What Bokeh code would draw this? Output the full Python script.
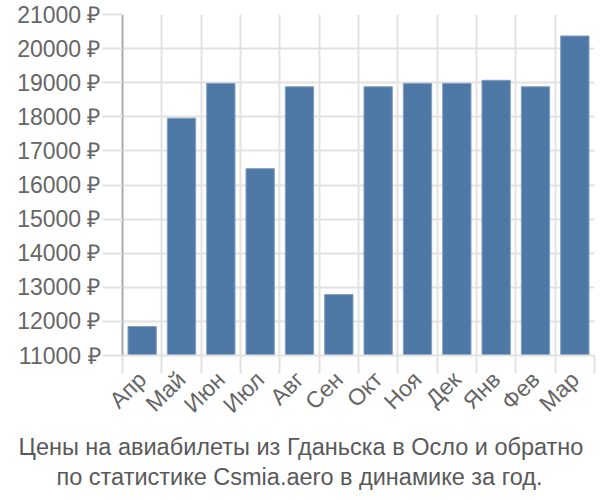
from bokeh.plotting import figure
from bokeh.models import Range1d, FixedTicker, PrintfTickFormatter, Title, ColumnDataSource
from bokeh.embed import file_html
from bokeh.resources import INLINE
import math

months = ["Апр", "Май", "Июн", "Июл", "Авг", "Сен", "Окт", "Ноя", "Дек", "Янв", "Фев", "Мар"]
prices = [11850, 17960, 18980, 16480, 18880, 12790, 18880, 18980, 18980, 19070, 18880, 20370]
y_ticks = [11000, 12000, 13000, 14000, 15000, 16000, 17000, 18000, 19000, 20000, 21000]
title_lines = ["Цены на авиабилеты из Гданьска в Осло и обратно",
               "по статистике Csmia.aero в динамике за год."]

n = len(months)
centers = [i + 0.5 for i in range(n)]
bounds = list(range(n + 1))

src = ColumnDataSource(dict(x=centers, top=prices, m=months))

p = figure(width=600, height=500, output_backend="svg", toolbar_location=None,
           x_range=Range1d(0, n), y_range=Range1d(y_ticks[0], y_ticks[-1]),
           min_border_left=122, min_border_right=6, min_border_top=14, min_border_bottom=145)
p.outline_line_color = None
p.background_fill_color = "white"
p.border_fill_color = "white"

p.vbar(x="x", top="top", bottom=y_ticks[0], width=0.72, source=src,
       fill_color="#4e79a7", line_color="#7f9fc4", line_width=1)

font = "Liberation Sans"
grid_col = "#e2e2e2"
fs = "23px"

# X axis
xa = p.xaxis[0]
xa.ticker = FixedTicker(ticks=centers, minor_ticks=bounds)
xa.major_label_overrides = {c: m for c, m in zip(centers, months)}
xa.major_tick_out = 0
xa.major_tick_in = 0
xa.minor_tick_out = 18
xa.minor_tick_in = 0
xa.minor_tick_line_color = grid_col
xa.minor_tick_line_width = 2
xa.axis_line_color = grid_col
xa.axis_line_width = 2
xa.major_label_orientation = math.pi / 4
xa.major_label_text_font = font
xa.major_label_text_font_size = fs
xa.major_label_text_color = "#666666"
xa.major_label_standoff = 2

# Y axis
ya = p.yaxis[0]
ya.ticker = FixedTicker(ticks=y_ticks)
ya.formatter = PrintfTickFormatter(format="%d ₽")
ya.major_tick_out = 20
ya.major_tick_in = 0
ya.major_tick_line_color = grid_col
ya.major_tick_line_width = 2
ya.minor_tick_line_color = None
ya.axis_line_color = "#aaaaaa"
ya.axis_line_width = 2
ya.major_label_text_font = font
ya.major_label_text_font_size = fs
ya.major_label_text_color = "#666666"
ya.major_label_standoff = 2

p.xgrid.ticker = FixedTicker(ticks=bounds)
p.xgrid.grid_line_color = grid_col
p.xgrid.grid_line_width = 2
p.ygrid.ticker = FixedTicker(ticks=y_ticks)
p.ygrid.grid_line_color = grid_col
p.ygrid.grid_line_width = 2

offsets = [-104, -66]
standoffs = [4, 0]
for line, off, so in zip(title_lines, offsets, standoffs):
    p.add_layout(Title(text=line, align="left", offset=off, text_font=font,
                       text_font_size="23.5px", text_font_style="normal",
                       text_color="#595959", standoff=so), "below")

open("out.html", "w").write(file_html(p, INLINE))
